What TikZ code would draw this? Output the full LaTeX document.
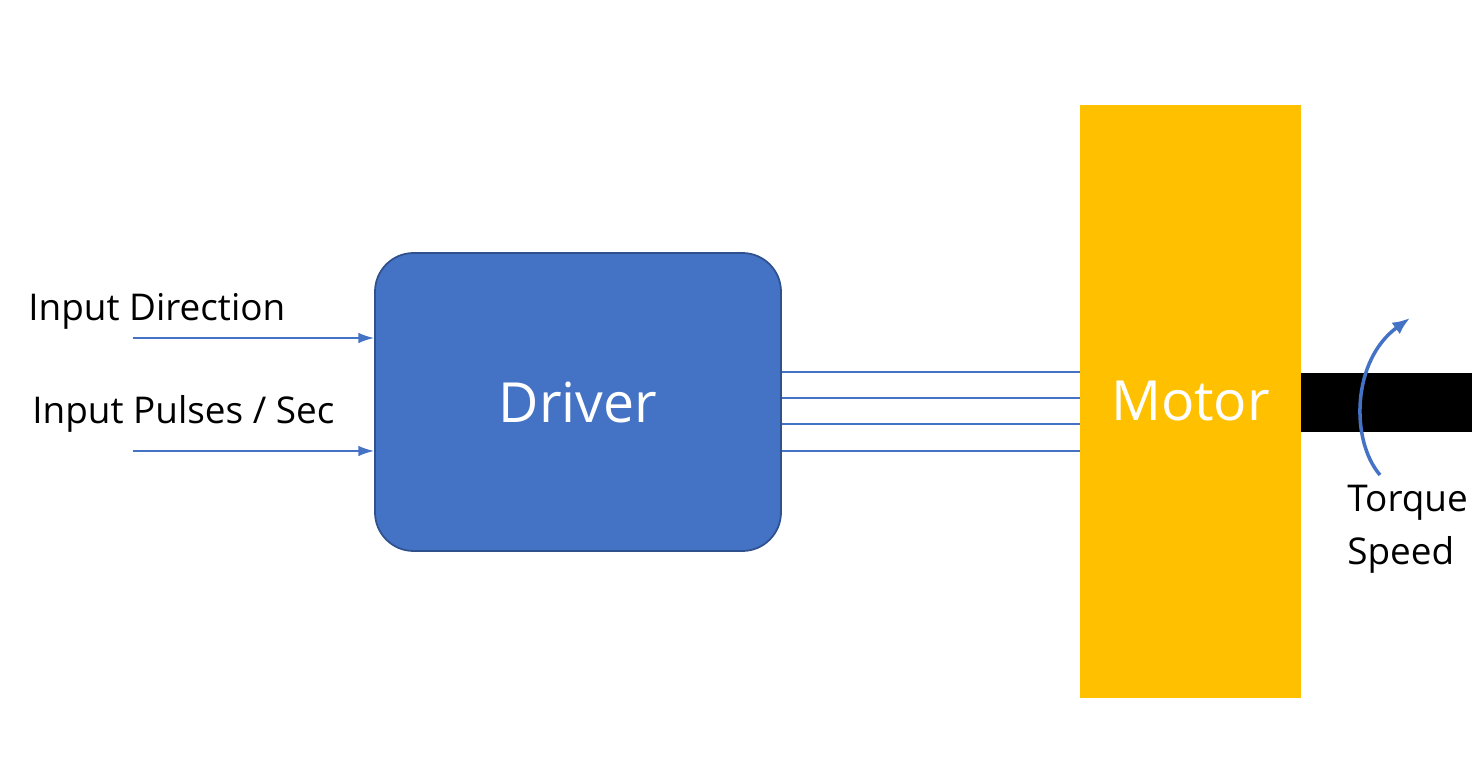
\documentclass[tikz,border=0pt]{standalone}
\usepackage{fontspec}
\setmainfont{Open Sans}
\usetikzlibrary{positioning,arrows.meta}
\definecolor{drvblue}{HTML}{4472C4}
\definecolor{drvedge}{HTML}{2F528F}
\definecolor{motgold}{HTML}{FFC000}
\begin{document}
\begin{tikzpicture}[x=0.02cm,y=-0.02cm,
    wire/.style={drvblue, line width=1pt},
    feed/.style={wire, -{Latex[length=9pt,width=6pt]}},
    lbl/.style={font=\fontsize{21}{25}\selectfont, inner sep=0pt}]
    \useasboundingbox (0,0) rectangle (1472,773);

    \node[draw=drvedge, fill=drvblue, rounded corners=22pt, line width=1pt,
          minimum width=406*0.02cm, minimum height=298*0.02cm,
          text=white, font=\fontsize{31.5}{36}\selectfont] (driver) at (578,402) {Driver};
    \node[fill=motgold, minimum width=221*0.02cm, minimum height=593*0.02cm,
          text=white, font=\fontsize{31.5}{36}\selectfont] (motor) at (1190.5,401.5) {Motor};
    \fill[black] (motor.east |- 0,373) rectangle (1472,432);

%   inputs
    \coordinate (dir) at (133,338);
    \coordinate (pul) at (133,451);
    \draw[feed] (dir) -- (dir -| driver.west);
    \draw[feed] (pul) -- (pul -| driver.west);
    \node[lbl, anchor=base west] (ldir) at (28,321) {Input Direction};
    \node[lbl, anchor=base west] (lpul) at (32,424) {Input Pulses / Sec};

%   phase wires
    \foreach \y in {372,398,424,451}
        \draw[wire] (driver.east |- 0,\y) -- (motor.west |- 0,\y);

%   output
    \coordinate (tq) at (1380,475);
    \draw[drvblue, line width=2pt, -{Latex[length=10pt,width=8pt]}]
        (tq) .. controls (1350,440) and (1352,360) .. (1410,318);
    \node[lbl, anchor=base west] (ltq) at (1347,512) {Torque};
    \node[lbl, anchor=base west] (lsp) at (1347,565) {Speed};
\end{tikzpicture}
\end{document}
